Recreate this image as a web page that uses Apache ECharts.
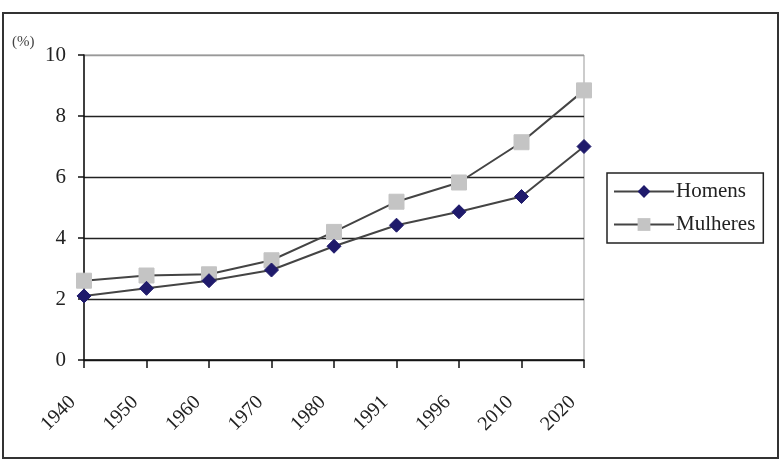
<!DOCTYPE html>
<html>
<head>
<meta charset="utf-8">
<script src="https://cdn.jsdelivr.net/npm/echarts@6/dist/echarts.min.js"></script>
<style>
  html, body { margin: 0; padding: 0; background: #fff; }
  #chart { width: 783px; height: 462px; }
</style>
</head>
<body>
<div id="chart"></div>
<script>
// anos e taxas (%)
const anos = ['1940', '1950', '1960', '1970', '1980', '1991', '1996', '2010', '2020']
const homens = [2.1, 2.35, 2.6, 2.95, 3.73, 4.42, 4.86, 5.36, 7.0]
const mulheres = [2.6, 2.77, 2.81, 3.27, 4.2, 5.19, 5.82, 7.14, 8.84]

const serif = '"Liberation Serif", "DejaVu Serif", serif'

const el = document.getElementById('chart')
const chart = echarts.init(el)

const option = {
  animation: false,
  backgroundColor: '#fff',
  graphic: [
    {
      type: 'rect',
      shape: { x: 3, y: 13, width: 775, height: 445 },
      style: { fill: 'none', stroke: '#333', lineWidth: 2 },
      silent: true
    },
    {
      type: 'text',
      left: 12,
      top: 35,
      style: { text: '(%)', font: '15px ' + serif, fill: '#444' }
    }
  ],
  grid: {
    left: 84,
    right: 199,
    top: 55,
    bottom: 102,
    show: true,
    borderColor: '#999',
    borderWidth: 1
  },
  legend: {
    orient: 'vertical',
    left: 607,
    top: 173,
    padding: [8, 8, 8, 6],
    itemGap: 12,
    itemWidth: 60,
    itemHeight: 16,
    borderColor: '#222',
    borderWidth: 1.5,
    textStyle: { fontFamily: serif, fontSize: 21, color: '#222', padding: [0, 0, 0, -3] },
    data: ['Homens', 'Mulheres']
  },
  xAxis: {
    type: 'category',
    data: anos,
    boundaryGap: false,
    axisLine: { lineStyle: { color: '#111', width: 1.5 } },
    axisTick: { show: true, length: 8, lineStyle: { color: '#111', width: 1.5 } },
    axisLabel: {
      rotate: 45,
      margin: 28,
      fontFamily: serif,
      fontSize: 20,
      color: '#222',
      interval: 0,
      padding: [0, 16, 17, 0]
    }
  },
  yAxis: {
    type: 'value',
    min: 0,
    max: 10,
    interval: 2,
    axisLine: { show: true, lineStyle: { color: '#111', width: 1.5 } },
    axisTick: { show: true, length: 6, lineStyle: { color: '#111', width: 1.5 } },
    axisLabel: { fontFamily: serif, fontSize: 21, color: '#222', margin: 18 },
    splitLine: {
      show: true,
      lineStyle: { color: ['#222', '#222', '#222', '#222', '#222', '#999'], width: 1.3 }
    }
  },
  series: [
    {
      name: 'Homens',
      type: 'line',
      data: homens,
      symbol: 'diamond',
      symbolSize: 14,
      itemStyle: { color: '#1f1a6b', borderColor: '#1f1a6b' },
      lineStyle: { color: '#444', width: 2 },
      z: 3
    },
    {
      name: 'Mulheres',
      type: 'line',
      data: mulheres,
      symbol: 'rect',
      symbolSize: 15,
      itemStyle: { color: '#c4c4c4', borderColor: '#c4c4c4' },
      lineStyle: { color: '#444', width: 2 },
      z: 2
    }
  ]
}

chart.setOption(option)
</script>
</body>
</html>
